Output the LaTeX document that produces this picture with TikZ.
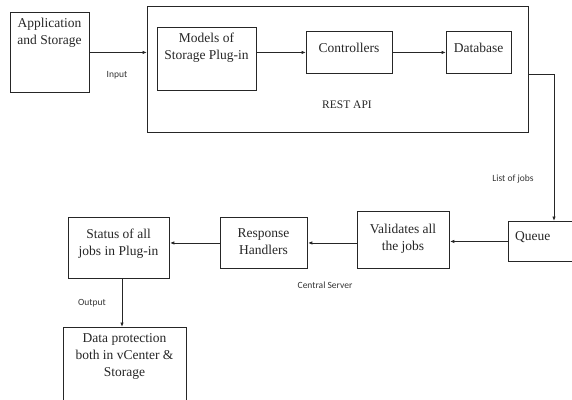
\documentclass[tikz,border=0pt]{standalone}
\usepackage{fontspec}
\setmainfont{Liberation Serif}
\newfontfamily\lblfont{Carlito}
\usetikzlibrary{arrows.meta}
\begin{document}
\begin{tikzpicture}[x=1pt,y=-1pt,
  box/.style={draw=black!85,line width=0.9pt,rectangle,inner sep=0pt,anchor=north west},
  btxt/.style={font=\fontsize{13.5}{17}\selectfont,align=center,inner sep=0pt,text=black!85},
  lbl/.style={font=\lblfont\fontsize{9.5}{11}\selectfont,inner sep=0pt,text=black!80},
  conn/.style={draw=black!85,line width=0.9pt,-{Latex[length=4.5pt,width=3.5pt]}},
  plain/.style={draw=black!85,line width=0.9pt}]
\useasboundingbox (0,0) rectangle (572,399);
\clip (0,0) rectangle (572,399);
% boxes
\node[box,minimum width=79pt,minimum height=80pt] (app) at (10,12) {};
\node[box,minimum width=381pt,minimum height=126pt] (rest) at (147,6) {};
\node[box,minimum width=99pt,minimum height=63pt] (models) at (157,27) {};
\node[box,minimum width=86pt,minimum height=42pt] (ctrl) at (306,31) {};
\node[box,minimum width=65pt,minimum height=42pt] (db) at (446,31) {};
\node[box,minimum width=72pt,minimum height=40pt] (queue) at (508,221) {};
\node[box,minimum width=92pt,minimum height=57pt] (val) at (357,211) {};
\node[box,minimum width=87pt,minimum height=51pt] (resp) at (220,217) {};
\node[box,minimum width=101pt,minimum height=61pt] (status) at (68,217) {};
\node[box,minimum width=123pt,minimum height=80pt] (data) at (63,327) {};
% texts
\node[btxt,anchor=north] (tapp) at (49.5,18) {Application\\and Storage};
\node[btxt,anchor=north] (tmodels) at (206.5,33) {Models of\\Storage Plug-in};
\node[btxt] (tctrl) at (349,48) {Controllers};
\node[btxt] (tdb) at (478.5,48) {Database};
\node[btxt,anchor=west] (tqueue) at (515,237) {Queue};
\node[btxt] (tval) at (403,239) {Validates all\\the jobs};
\node[btxt] (tresp) at (263.5,242) {Response\\Handlers};
\node[btxt] (tstatus) at (118.5,244) {Status of all\\jobs in Plug-in};
\node[btxt,anchor=north] (tdata) at (124.5,333) {Data protection\\both in vCenter \&\\Storage};
\node[font=\fontsize{11.5}{13}\selectfont,inner sep=0pt,text=black!85] (trest) at (347,105) {REST API};
% labels
\node[lbl] (linput) at (117,75) {Input};
\node[lbl] (ljobs) at (513,179) {List of jobs};
\node[lbl] (lcentral) at (325,285) {Central Server};
\node[lbl] (loutput) at (92,303) {Output};
% connectors
\draw[conn] (app.east) -- (app.east -| rest.west);
\draw[conn] (ctrl.west -| models.east) -- (ctrl.west);
\draw[conn] (ctrl.east) -- (db.west);
\coordinate (turn) at (554,74);
\draw[conn] (turn -| rest.east) -- (turn) -- (turn |- queue.north);
\draw[conn] (queue.west) -- (queue.west -| val.east);
\draw[conn] (resp.east -| val.west) -- (resp.east);
\draw[conn] (resp.west) -- (resp.west -| status.east);
\coordinate (down) at (122,300);
\draw[conn] (down |- status.south) -- (down |- data.north);
\end{tikzpicture}
\end{document}
